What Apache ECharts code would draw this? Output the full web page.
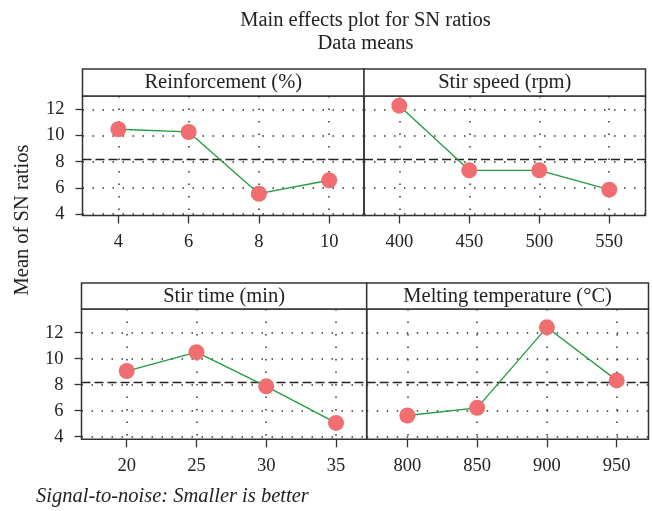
<!DOCTYPE html>
<html><head><meta charset="utf-8">
<script src="https://cdn.jsdelivr.net/npm/echarts@6/dist/echarts.min.js"></script>
<style>html,body{margin:0;padding:0;background:#fff}#c{width:653px;height:511px}</style>
</head><body><div id="c"></div>
<script>
// ---- data ----
const panelTitles = ['Reinforcement (%)', 'Stir speed (rpm)', 'Stir time (min)', 'Melting temperature (°C)'];
const reinforcementLevels = [4, 6, 8, 10];
const reinforcementMeans = [10.48, 10.27, 5.55, 6.58];
const stirSpeedLevels = [400, 450, 500, 550];
const stirSpeedMeans = [12.28, 7.34, 7.34, 5.86];
const stirTimeLevels = [20, 25, 30, 35];
const stirTimeMeans = [9.05, 10.50, 7.87, 5.06];
const meltTempLevels = [800, 850, 900, 950];
const meltTempMeans = [5.63, 6.22, 12.41, 8.33];
const yTickValues = [4, 6, 8, 10, 12];
const mainTitle = 'Main effects plot for SN ratios';
const subTitle = 'Data means';
const yAxisTitle = 'Mean of SN ratios';
const footnote = 'Signal-to-noise: Smaller is better';

const allLevels = [reinforcementLevels, stirSpeedLevels, stirTimeLevels, meltTempLevels];
const allMeans = [reinforcementMeans, stirSpeedMeans, stirTimeMeans, meltTempMeans];
const flat = [].concat(...allMeans);
const grandMean = flat.reduce((a, b) => a + b, 0) / flat.length;

// ---- layout (pixels / axis ranges) ----
const FONT = "'Liberation Serif', 'Times New Roman', serif";
const layout = [
  {l: 82.5, r: 364,   t: 96,  b: 215.5, ht: 69,  xmin: 2.98,  xmax: 10.99, ymin: 3.885, ymax: 13.02, showY: true},
  {l: 364,  r: 645.5, t: 96,  b: 215.5, ht: 69,  xmin: 374.8, xmax: 575.9, ymin: 3.885, ymax: 13.02, showY: false},
  {l: 81.5, r: 366.7, t: 309, b: 439.3, ht: 283, xmin: 16.76, xmax: 37.2,  ymin: 3.8,   ymax: 13.82, showY: true},
  {l: 366.7,r: 648.5, t: 309, b: 439.3, ht: 283, xmin: 770.9, xmax: 972.8, ymin: 3.8,   ymax: 13.82, showY: false}
];

const grids = [], xAxes = [], yAxes = [], series = [], graphics = [];
layout.forEach((p, i) => {
  grids.push({left: p.l, top: p.t, width: p.r - p.l, height: p.b - p.t, show: true,
    borderColor: '#333', borderWidth: 1.5, backgroundColor: 'transparent'});
  xAxes.push({gridIndex: i, type: 'value', min: p.xmin, max: p.xmax,
    axisLine: {show: false},
    axisTick: {show: true, length: 8, customValues: allLevels[i], lineStyle: {color: '#333', width: 1.3}},
    axisLabel: {customValues: allLevels[i], margin: 17, fontSize: 18.5, fontFamily: FONT, color: '#222'},
    splitLine: {show: true, lineStyle: {type: [1.5, 11], color: '#333', width: 1.5}}
  });
  yAxes.push({gridIndex: i, type: 'value', min: p.ymin, max: p.ymax,
    axisLine: {show: false},
    axisTick: {show: p.showY, length: 7, customValues: yTickValues, lineStyle: {color: '#333', width: 1.3}},
    axisLabel: {show: p.showY, customValues: yTickValues, margin: 18, fontSize: 18.5, fontFamily: FONT, color: '#222'},
    splitLine: {show: true, lineStyle: {type: [1.5, 8.5], color: '#333', width: 1.5}}
  });
  series.push({type: 'line', xAxisIndex: i, yAxisIndex: i,
    data: allLevels[i].map((x, k) => [x, allMeans[i][k]]),
    symbol: 'circle', symbolSize: 16, z: 3,
    itemStyle: {color: '#F06E70'},
    lineStyle: {color: '#239B3F', width: 1.3},
    markLine: {silent: true, symbol: 'none', label: {show: false}, z: 2,
      lineStyle: {type: [9, 4], color: '#222', width: 1.3},
      data: [{yAxis: grandMean}]}
  });
  graphics.push({type: 'rect', shape: {x: p.l, y: p.ht, width: p.r - p.l, height: p.t - p.ht},
    style: {fill: '#fff', stroke: '#333', lineWidth: 1.5}});
  graphics.push({type: 'text', x: (p.l + p.r) / 2, y: (p.ht + p.t) / 2 + 0.5,
    style: {text: panelTitles[i], font: '20.5px ' + FONT, fill: '#222', textAlign: 'center', textVerticalAlign: 'middle'}});
});
graphics.push({type: 'text', x: 365.5, y: 21, style: {text: mainTitle, font: '20.5px ' + FONT, fill: '#222', textAlign: 'center', textVerticalAlign: 'middle'}});
graphics.push({type: 'text', x: 365.5, y: 44, style: {text: subTitle, font: '20.5px ' + FONT, fill: '#222', textAlign: 'center', textVerticalAlign: 'middle'}});
graphics.push({type: 'text', x: 23, y: 220, rotation: Math.PI / 2, style: {text: yAxisTitle, font: '20.5px ' + FONT, fill: '#222', textAlign: 'center', textVerticalAlign: 'middle'}});
graphics.push({type: 'text', x: 36, y: 497, style: {text: footnote, font: 'italic 20.5px ' + FONT, fill: '#222', textAlign: 'left', textVerticalAlign: 'middle'}});

const chart = echarts.init(document.getElementById('c'), null, {renderer: 'canvas'});
chart.setOption({
  animation: false,
  backgroundColor: '#fff',
  grid: grids, xAxis: xAxes, yAxis: yAxes, series: series,
  graphic: graphics
});
</script></body></html>
